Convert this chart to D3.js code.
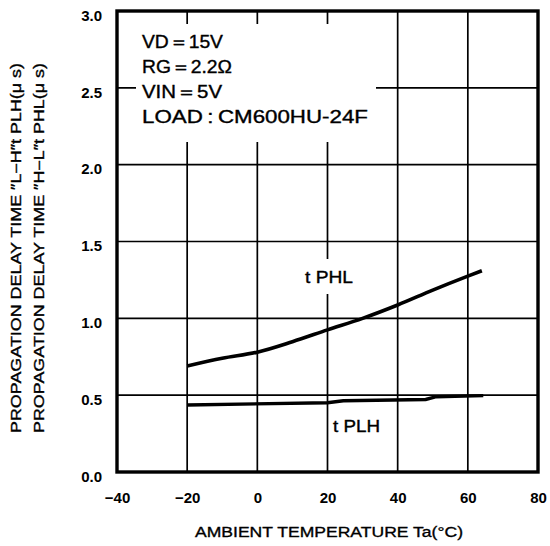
<!DOCTYPE html>
<html>
<head>
<meta charset="utf-8">
<script src="https://cdn.jsdelivr.net/npm/d3@7"></script>
<style>
  html, body { margin: 0; padding: 0; background: #fff; }
  svg { display: block; }
  text { font-family: "Liberation Sans", Arial, sans-serif; fill: #000; }
  .heavy { stroke: #000; stroke-width: 0.35; }
</style>
</head>
<body>
<svg id="chart" width="550" height="546"></svg>
<script>
// ── Data ──────────────────────────────────────────────────────────────────────
const xTicks = [-40, -20, 0, 20, 40, 60, 80];
const yTicks = [0.0, 0.5, 1.0, 1.5, 2.0, 2.5, 3.0];

const phlTemp = [-20, -10, 0, 10, 20, 30, 40, 50, 60, 64];
const phlTime = [0.69, 0.74, 0.78, 0.848, 0.925, 1.0, 1.087, 1.184, 1.275, 1.31];

const plhTemp = [-20, 20, 24.5, 48, 51, 64.4];
const plhTime = [0.436, 0.451, 0.464, 0.472, 0.49, 0.497];

const conditions = ['VD＝15V', 'RG＝2.2Ω', 'VIN＝5V', 'LOAD\u2009:\u2009CM600HU-24F'];
const condWidth  = [81, 90, 80, 226];   // measured text widths in the original

// ── Layout ────────────────────────────────────────────────────────────────────
const W = 550, H = 546;
const m = { l: 117, r: 12, t: 11, b: 74 };
const svg = d3.select('#chart');

const x = d3.scaleLinear().domain([-40, 80]).range([m.l, W - m.r]);
const y = d3.scaleLinear().domain([0, 3]).range([H - m.b, m.t]);

// grid
const g = svg.append('g');
g.selectAll('line.vx').data(xTicks.slice(1, -1)).join('line')
  .attr('x1', d => x(d)).attr('x2', d => x(d))
  .attr('y1', y(3)).attr('y2', y(0))
  .attr('stroke', '#000').attr('stroke-width', 1.7);
g.selectAll('line.hy').data(yTicks.slice(1, -1)).join('line')
  .attr('x1', x(-40)).attr('x2', x(80))
  .attr('y1', d => y(d)).attr('y2', d => y(d))
  .attr('stroke', '#000').attr('stroke-width', 1.7);

// white boxes behind labels (they cut the grid in the original)
svg.append('rect').attr('x', 136).attr('y', 24).attr('width', 240).attr('height', 118).attr('fill', '#fff');
svg.append('rect').attr('x', 300).attr('y', 259).attr('width', 58).attr('height', 35).attr('fill', '#fff');

// frame
svg.append('rect')
  .attr('x', x(-40)).attr('y', y(3))
  .attr('width', x(80) - x(-40)).attr('height', y(0) - y(3))
  .attr('fill', 'none').attr('stroke', '#000').attr('stroke-width', 3.4);

// axes labels
const xAxis = d3.axisBottom(x).tickValues(xTicks).tickSize(0).tickPadding(0)
  .tickFormat(d => d < 0 ? '−' + Math.abs(d) : d);
svg.append('g').attr('transform', `translate(0,${H - m.b + 31})`).call(xAxis)
  .call(s => s.select('.domain').remove())
  .selectAll('text').attr('dy', 0).attr('font-size', 15).attr('font-weight', 'bold')
  .style('font-family', '"Liberation Sans", Arial, sans-serif');

const yAxis = d3.axisLeft(y).tickValues(yTicks).tickSize(0).tickPadding(15)
  .tickFormat(d3.format('.1f'));
svg.append('g').attr('transform', `translate(${m.l},0)`).call(yAxis)
  .call(s => s.select('.domain').remove())
  .selectAll('text').attr('dy', '0.62em').attr('font-size', 15).attr('font-weight', 'bold')
  .style('font-family', '"Liberation Sans", Arial, sans-serif');

// curves
const line = d3.line().curve(d3.curveMonotoneX);
svg.append('path')
  .attr('d', line(phlTemp.map((t, i) => [x(t), y(phlTime[i])])))
  .attr('fill', 'none').attr('stroke', '#000').attr('stroke-width', 3.6);
svg.append('path')
  .attr('d', d3.line()(plhTemp.map((t, i) => [x(t), y(plhTime[i])])))
  .attr('fill', 'none').attr('stroke', '#000').attr('stroke-width', 3.4);

// curve labels
svg.append('text').attr('class', 'heavy').attr('x', 305).attr('y', 283).attr('font-size', 16)
  .attr('textLength', 48).attr('lengthAdjust', 'spacingAndGlyphs').text('t PHL');
svg.append('text').attr('class', 'heavy').attr('x', 333).attr('y', 432).attr('font-size', 16)
  .attr('textLength', 47).attr('lengthAdjust', 'spacingAndGlyphs').text('t PLH');

// conditions
svg.append('g').selectAll('text').data(conditions).join('text')
  .attr('class', 'heavy')
  .attr('x', 142).attr('y', (d, i) => 48 + i * 25)
  .attr('font-size', 17.5)
  .attr('textLength', (d, i) => condWidth[i]).attr('lengthAdjust', 'spacingAndGlyphs')
  .text(d => d);

// axis titles
svg.append('text').attr('class', 'heavy').attr('x', 329).attr('y', 537).attr('text-anchor', 'middle')
  .attr('font-size', 15.5).attr('textLength', 268).attr('lengthAdjust', 'spacingAndGlyphs')
  .text('AMBIENT TEMPERATURE  Ta(°C)');

const yTitles = ['PROPAGATION DELAY TIME ″L−H″t PLH(μ s)', 'PROPAGATION DELAY TIME ″H−L″t PHL(μ s)'];
svg.append('g').selectAll('text').data(yTitles).join('text')
  .attr('class', 'heavy')
  .attr('transform', (d, i) => `translate(${21 + i * 23},248) rotate(-90)`)
  .attr('text-anchor', 'middle').attr('font-size', 14.5)
  .attr('textLength', 370).attr('lengthAdjust', 'spacingAndGlyphs')
  .text(d => d);
</script>
</body>
</html>
